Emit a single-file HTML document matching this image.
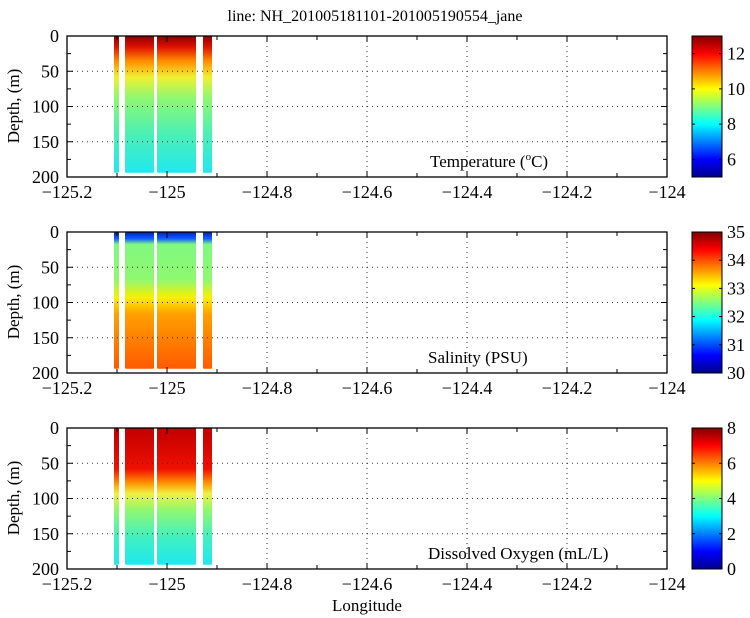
<!DOCTYPE html>
<html><head><meta charset="utf-8"><style>
html,body{margin:0;padding:0;background:#fff;}
svg{display:block;font-family:"Liberation Serif",serif;}
</style></head><body>
<svg id="s" width="750" height="618" xmlns="http://www.w3.org/2000/svg">
<defs>
<linearGradient id="jet" x1="0" y1="1" x2="0" y2="0">
<stop offset="0" stop-color="#00008f"/><stop offset="0.125" stop-color="#0000ff"/><stop offset="0.375" stop-color="#00ffff"/><stop offset="0.625" stop-color="#ffff00"/><stop offset="0.875" stop-color="#ff0000"/><stop offset="1" stop-color="#800000"/>
</linearGradient>
<linearGradient id="g1" x1="0" y1="0" x2="0" y2="1">
<stop offset="0" stop-color="#8a0000"/><stop offset="0.08" stop-color="#e01000"/><stop offset="0.18" stop-color="#ff8a00"/><stop offset="0.3" stop-color="#f0f030"/><stop offset="0.45" stop-color="#90f870"/><stop offset="0.7" stop-color="#50f0b0"/><stop offset="1" stop-color="#20e8f0"/>
</linearGradient>
<linearGradient id="g2" x1="0" y1="0" x2="0" y2="1">
<stop offset="0" stop-color="#0020c0"/><stop offset="0.05" stop-color="#1060ff"/><stop offset="0.09" stop-color="#80f880"/><stop offset="0.35" stop-color="#90f870"/><stop offset="0.48" stop-color="#f8f000"/><stop offset="0.6" stop-color="#ffa000"/><stop offset="1" stop-color="#ff5a00"/>
</linearGradient>
<linearGradient id="g3" x1="0" y1="0" x2="0" y2="1">
<stop offset="0" stop-color="#c00000"/><stop offset="0.3" stop-color="#f01000"/><stop offset="0.4" stop-color="#ff9000"/><stop offset="0.48" stop-color="#f0f040"/><stop offset="0.6" stop-color="#90f870"/><stop offset="0.8" stop-color="#40f0c0"/><stop offset="1" stop-color="#20e8f0"/>
</linearGradient>
</defs>
<text x="375" y="21" font-size="16" text-anchor="middle">line: NH_201005181101-201005190554_jane</text>
</svg>
<script>
const s=document.getElementById('s');let h='';
const panels=[{t:36,g:'g1',lab:'Temperature (',sup:'o',lab2:'C)',lx:430,cb:[['12',12],['10',10],['8',8],['6',6]],mn:5,mx:13},
{t:232,g:'g2',lab:'Salinity (PSU)',lx:428,cb:[['35',35],['34',34],['33',33],['32',32],['31',31],['30',30]],mn:30,mx:35},
{t:428,g:'g3',lab:'Dissolved Oxygen (mL/L)',lx:428,cb:[['8',8],['6',6],['4',4],['2',2],['0',0]],mn:0,mx:8}];
const X=l=>167+(l+125)*500;
panels.forEach((p,i)=>{const t=p.t,b=t+141,H=141,Y=d=>t+d/200*H;
 [[114,119],[125,154],[157,196],[203,212]].forEach(r=>{h+=`<rect x="${r[0]}" y="${t}" width="${r[1]-r[0]}" height="${Y(194)-t}" fill="url(#${p.g})" rx="1"/>`;});
 for(let l=-124.8;l<-124.01;l+=0.2)h+=`<line x1="${X(l)}" y1="${t}" x2="${X(l)}" y2="${b}" stroke="#333" stroke-dasharray="1,4"/>`;
 [50,100,150].forEach(d=>h+=`<line x1="67" y1="${Y(d)}" x2="667" y2="${Y(d)}" stroke="#333" stroke-dasharray="1,4"/>`);
 h+=`<rect x="67" y="${t}" width="600" height="${H}" fill="none" stroke="#000" stroke-width="1.3"/>`;
 for(let k=0;k<=12;k++){const x=X(-125.2+k*0.1),L=k%2==0?6:4;h+=`<line x1="${x}" y1="${t}" x2="${x}" y2="${t+L}" stroke="#000"/><line x1="${x}" y1="${b}" x2="${x}" y2="${b-L}" stroke="#000"/>`;
  if(k%2==0){const v=(-125.2+k*0.1).toFixed(1).replace(/\.0$/,'');h+=`<text x="${x}" y="${b+21}" font-size="18" text-anchor="middle">${v.replace('-','\u2212')}</text>`;}}
 for(let d=0;d<=200;d+=25){const L=d%50==0?6:4;h+=`<line x1="67" y1="${Y(d)}" x2="${67+L}" y2="${Y(d)}" stroke="#000"/><line x1="667" y1="${Y(d)}" x2="${667-L}" y2="${Y(d)}" stroke="#000"/>`;
  if(d%50==0)h+=`<text x="59" y="${Y(d)+6}" font-size="18" text-anchor="end">${d}</text>`;}
 h+=`<text transform="translate(19,${t+70}) rotate(-90)" font-size="17" text-anchor="middle">Depth, (m)</text>`;
 h+=`<text x="${p.lx}" y="${t+131}" font-size="17">${p.lab}${p.sup?`<tspan dy="-7" font-size="11">${p.sup}</tspan><tspan dy="7">${p.lab2}</tspan>`:''}</text>`;
 h+=`<rect x="692" y="${t}" width="30" height="${H}" fill="url(#jet)" stroke="#000"/>`;
 p.cb.forEach(c=>{const y=b-(c[1]-p.mn)/(p.mx-p.mn)*H;h+=`<line x1="692" y1="${y}" x2="695" y2="${y}" stroke="#000"/><line x1="719" y1="${y}" x2="722" y2="${y}" stroke="#000"/><text x="727" y="${y+6}" font-size="18">${c[0]}</text>`;});
});
h+=`<text x="367" y="611" font-size="17" text-anchor="middle">Longitude</text>`;
s.insertAdjacentHTML('beforeend',h);
</script>
</body></html>
